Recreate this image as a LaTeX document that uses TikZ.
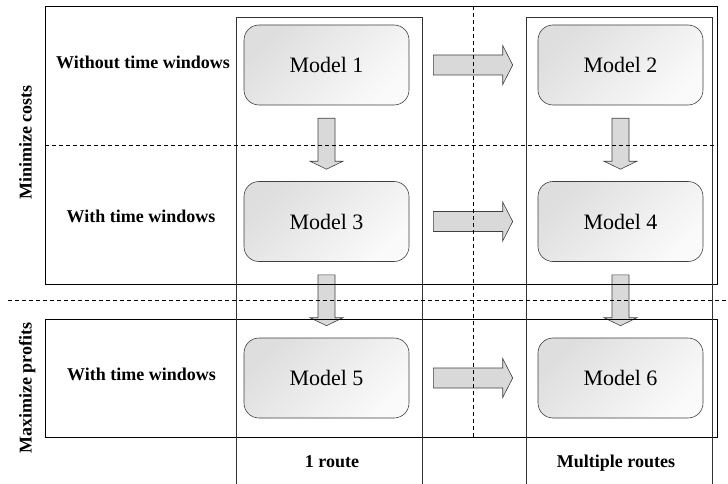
\documentclass[tikz,border=0pt]{standalone}
\usepackage{fontspec}
\setmainfont{Liberation Serif}
\usetikzlibrary{calc}
\newcommand{\harr}[2]{%
  \path[blockarr] let \p1=($(#1.east)+(24pt,0pt)$), \p2=($(#2.west)+(-25pt,0pt)$) in
    (\x1,{\y1+10pt}) -- ({\x2-10pt},{\y1+10pt}) -- ({\x2-10pt},{\y1+19.5pt}) -- (\x2,\y1)
    -- ({\x2-10pt},{\y1-19.5pt}) -- ({\x2-10pt},{\y1-10pt}) -- (\x1,{\y1-10pt}) -- cycle;}
\newcommand{\varr}[2]{%
  \path[blockarr] let \p1=($(#1.south)+(0pt,-13pt)$), \p2=($(#2.north)+(0pt,12pt)$) in
    ({\x1-8.5pt},\y1) -- ({\x1+8.5pt},\y1) -- ({\x1+8.5pt},{\y2+8pt}) -- ({\x1+16.5pt},{\y2+8pt})
    -- (\x1,\y2) -- ({\x1-16.5pt},{\y2+8pt}) -- ({\x1-8.5pt},{\y2+8pt}) -- cycle;}
\begin{document}
\begin{tikzpicture}[x=1pt,y=-1pt,
  frame/.style={draw=black, line width=0.8pt},
  colframe/.style={draw=black!80, line width=0.8pt},
  sep/.style={draw=black, dash pattern=on 4pt off 3pt, line width=0.7pt},
  modelbox/.style={draw=black!75, line width=0.6pt, rounded corners=15pt,
    minimum width=165pt, minimum height=80pt, inner sep=0pt,
    top color=black!13, bottom color=black!2, shading angle=45,
    font=\fontsize{22}{24}\selectfont},
  lab/.style={font=\bfseries\fontsize{18}{20}\selectfont, inner sep=0pt, anchor=base},
  blockarr/.style={fill=black!15, draw=black!75, line width=0.6pt, line join=miter}]
\useasboundingbox (0,0) rectangle (728,484);
% models
\node[modelbox] (m1) at (326.5,65) {Model 1};
\node[modelbox] (m2) at (620.5,65) {Model 2};
\node[modelbox] (m3) at (326.5,221.5) {Model 3};
\node[modelbox] (m4) at (620.5,221.5) {Model 4};
\node[modelbox] (m5) at (326.5,378) {Model 5};
\node[modelbox] (m6) at (620.5,378) {Model 6};
% block arrows
\harr{m1}{m2}
\harr{m3}{m4}
\harr{m5}{m6}
\varr{m1}{m3}
\varr{m3}{m5}
\varr{m2}{m4}
\varr{m4}{m6}
% frames
\draw[frame] (45,6) rectangle (717,284);
\draw[frame] (45,319) rectangle (717,437);
\draw[colframe] (236,484) -- (236,17) -- (422,17) -- (422,484);
\draw[colframe] (526,484) -- (526,17) -- (712,17) -- (712,484);
\draw[sep] (45,145) -- (717,145);
\draw[sep] (8,300) -- (728,300);
\draw[sep] (473,6) -- (473,437);
% labels
\node[lab] (r1) at (143,68.5) {Without time windows};
\node[lab] (r2) at (141,222) {With time windows};
\node[lab] (r3) at (141.5,380) {With time windows};
\node[lab] (c1) at (332,467) {1 route};
\node[lab] (c2) at (616,467) {Multiple routes};
\node[lab, rotate=90] (g1) at (31.5,142.5) {Minimize costs};
\node[lab, rotate=90] (g2) at (31.5,388) {Maximize profits};
\end{tikzpicture}
\end{document}
